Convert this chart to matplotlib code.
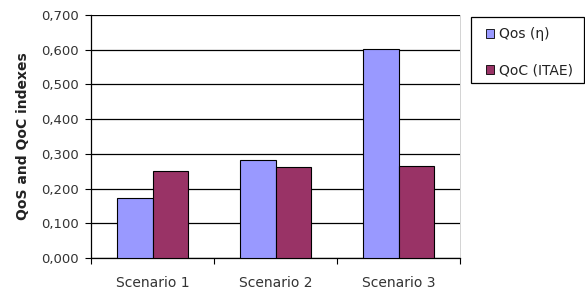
import matplotlib
matplotlib.use("Agg")
import matplotlib.pyplot as plt
import numpy as np
from matplotlib.ticker import FixedLocator, FuncFormatter
from matplotlib.patches import Patch, Rectangle

categories = ["Scenario 1", "Scenario 2", "Scenario 3"]
qos = [0.173, 0.283, 0.602]
qoc = [0.252, 0.262, 0.265]
series_names = ["Qos (\u03b7)", "QoC (ITAE)"]
yticks = [0.0, 0.1, 0.2, 0.3, 0.4, 0.5, 0.6, 0.7]

plt.rcParams['font.family'] = ['DejaVu Sans']

W, H = 585, 294
fig = plt.figure(figsize=(W/100, H/100), dpi=100)
L, R, T, B = 91, 460, 15, 258
ax = fig.add_axes([L/W, 1 - B/H, (R-L)/W, (B-T)/H])

x = np.arange(len(categories))
w = 0.29
ax.bar(x - w/2, qos, w, color="#9999FF", edgecolor="black", linewidth=0.8, zorder=3)
ax.bar(x + w/2, qoc, w, color="#993366", edgecolor="black", linewidth=0.8, zorder=3)

ax.set_xlim(-0.5, 2.5)
ax.set_ylim(0, 0.7)
ax.set_yticks(yticks)
ax.yaxis.set_major_formatter(FuncFormatter(lambda v, p: f"{v:.3f}".replace(".", ",")))
ax.set_xticks(x)
ax.set_xticklabels(categories)
ax.xaxis.set_minor_locator(FixedLocator([-0.5, 0.5, 1.5, 2.5]))
ax.tick_params(axis='x', which='major', length=0, pad=13, labelsize=10, labelcolor="#333333")
ax.tick_params(axis='x', which='minor', length=4, width=0.8, direction='out')
ax.tick_params(axis='y', length=4.5, width=0.8, direction='out', labelsize=9.5, pad=4, labelcolor="#333333")

ax.grid(axis='y', color="black", linewidth=0.9, zorder=0)
ax.spines['top'].set_visible(False)
ax.spines['right'].set_color("#cccccc")
ax.spines['right'].set_linewidth(0.6)
ax.spines['left'].set_linewidth(0.9)
ax.spines['bottom'].set_linewidth(0.9)

ax.set_ylabel("QoS and QoC indexes", fontsize=10, fontweight='bold', labelpad=8, color="#222222")

# legend box
box = Rectangle((471/W, 1 - 83/H), (584 - 471)/W, (83 - 17)/H, transform=fig.transFigure,
                facecolor="white", edgecolor="black", linewidth=0.9, zorder=5)
fig.patches.append(box)
handles = [Patch(facecolor="#9999FF", edgecolor="black", linewidth=0.6),
           Patch(facecolor="#993366", edgecolor="black", linewidth=0.6)]
leg = fig.legend(handles, series_names, loc='upper left',
                 bbox_to_anchor=(486/W, 1 - 27/H), fontsize=10,
                 frameon=False, labelcolor="#222222",
                 handlelength=0.6, handleheight=0.6, handletextpad=0.35,
                 labelspacing=1.6, borderpad=0, borderaxespad=0)
leg.set_zorder(6)

fig.savefig("out.png", dpi=100)
